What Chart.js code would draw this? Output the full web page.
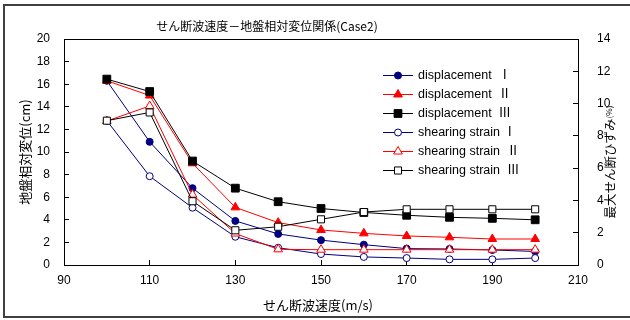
<!DOCTYPE html>
<html>
<head>
<meta charset="utf-8">
<script src="https://cdn.jsdelivr.net/npm/chart.js@4.4.1/dist/chart.umd.min.js"></script>
<style>
html, body { margin: 0; padding: 0; background: #fff; }
</style>
</head>
<body>
<canvas id="chart" width="630" height="320"></canvas>
<script>
// せん断波速度 (m/s)
const velocities = [100, 110, 120, 130, 140, 150, 160, 170, 180, 190, 200];

// 地盤相対変位 (cm) - left axis
const dispI   = [16.3, 10.9, 6.8, 3.9, 2.75, 2.2, 1.8, 1.45, 1.42, 1.33, 1.2];
const dispII  = [16.3, 15.0, 9.0, 5.1, 3.75, 3.1, 2.8, 2.57, 2.45, 2.3, 2.3];
const dispIII = [16.45, 15.35, 9.2, 6.8, 5.6, 5.0, 4.65, 4.4, 4.22, 4.13, 4.0];

// 最大せん断ひずみ (%) - right axis
const strainI   = [8.94, 5.5, 3.55, 1.75, 1.07, 0.68, 0.5, 0.43, 0.35, 0.35, 0.43];
const strainII  = [8.92, 9.85, 4.36, 1.95, 0.97, 0.95, 0.95, 0.95, 0.95, 0.95, 0.95];
const strainIII = [8.94, 9.45, 3.95, 2.15, 2.37, 2.83, 3.28, 3.45, 3.45, 3.45, 3.45];

const xTicks = [90, 110, 130, 150, 170, 190, 210];

const seriesNames = ["displacement  Ⅰ", "displacement  Ⅱ", "displacement  Ⅲ",
                     "shearing strain Ⅰ", "shearing strain  Ⅱ", "shearing strain  Ⅲ"];

const NAVY = "#000080", RED = "#ff0000", BLACK = "#000000";
const tickFont = { family: "'Liberation Sans', Arial, sans-serif", size: 12 };
const jpFont = "'Noto Sans CJK JP', sans-serif";

const toPoints = (vals) => vals.map((v, i) => ({ x: velocities[i], y: v }));

const makeSet = (label, vals, color, style, filled, axis, radius, order) => ({
    label,
    data: toPoints(vals),
    yAxisID: axis,
    borderColor: color,
    borderWidth: 1,
    pointStyle: style,
    pointRadius: radius,
    pointBorderColor: color,
    pointBorderWidth: 1,
    pointBackgroundColor: filled ? color : "#ffffff",
    tension: 0,
    fill: false,
    order
});

//marcadores de la leyenda
const drawMarker = (ctx, ds, x, y) => {
    const r = ds.pointRadius;
    ctx.save();
    ctx.beginPath();
    if (ds.pointStyle === "circle") {
        ctx.arc(x, y, r, 0, Math.PI * 2);
    } else if (ds.pointStyle === "triangle") {
        ctx.moveTo(x, y - r);
        ctx.lineTo(x + r * Math.sin(Math.PI * 2 / 3), y - r * Math.cos(Math.PI * 2 / 3));
        ctx.lineTo(x - r * Math.sin(Math.PI * 2 / 3), y - r * Math.cos(Math.PI * 2 / 3));
        ctx.closePath();
    } else {
        const s = r * Math.SQRT1_2;
        ctx.rect(x - s, y - s, 2 * s, 2 * s);
    }
    ctx.fillStyle = ds.pointBackgroundColor;
    ctx.fill();
    ctx.lineWidth = 1;
    ctx.strokeStyle = ds.pointBorderColor;
    ctx.stroke();
    ctx.restore();
};

const decor = {
    id: "decor",
    beforeDraw(chart) {
        const ctx = chart.ctx;
        ctx.save();
        ctx.fillStyle = "#fff";
        ctx.fillRect(0, 0, chart.width, chart.height);
        ctx.strokeStyle = "#404040";
        ctx.lineWidth = 2;
        ctx.strokeRect(4, 5, 700, 312);
        ctx.restore();
    },
    afterDraw(chart) {
        const ctx = chart.ctx;
        const a = chart.chartArea;
        ctx.save();
        // plot box
        ctx.strokeStyle = "#000";
        ctx.lineWidth = 1;
        ctx.strokeRect(Math.round(a.left) + 0.5, Math.round(a.top) + 0.5,
                       Math.round(a.right - a.left), Math.round(a.bottom - a.top));

        ctx.fillStyle = "#000";
        ctx.textBaseline = "middle";
        // title
        ctx.textAlign = "center";
        ctx.font = "12px " + jpFont;
        ctx.fillText("せん断波速度－地盤相対変位関係(Case2)", 267, 26);
        // x title
        ctx.font = "13px " + jpFont;
        ctx.fillText("せん断波速度(m/s)", 318, 305);
        // left title
        ctx.save();
        ctx.translate(25, 152);
        ctx.rotate(-Math.PI / 2);
        ctx.fillText("地盤相対変位(cm)", 0, 0);
        ctx.restore();
        // right title
        ctx.save();
        ctx.translate(610, 162);
        ctx.rotate(-Math.PI / 2);
        ctx.font = "12.5px " + jpFont;
        const main = "最大せん断ひずみ";
        const w1 = ctx.measureText(main).width;
        ctx.font = "8px " + jpFont;
        const w2 = ctx.measureText("(%)").width;
        const start = -(w1 + w2) / 2;
        ctx.textAlign = "left";
        ctx.font = "12.5px " + jpFont;
        ctx.fillText(main, start, 0);
        ctx.font = "8px " + jpFont;
        ctx.fillText("(%)", start + w1, -1);
        ctx.restore();

        // legend
        ctx.textAlign = "left";
        ctx.font = "12.5px 'Liberation Sans', 'Noto Sans CJK JP', sans-serif";
        chart.data.datasets.forEach((ds, i) => {
            const y = 75 + i * 19;
            ctx.beginPath();
            ctx.strokeStyle = ds.borderColor;
            ctx.lineWidth = 1;
            ctx.moveTo(383, y + 0.5);
            ctx.lineTo(413, y + 0.5);
            ctx.stroke();
            drawMarker(ctx, ds, 398, y + 0.5);
            ctx.fillStyle = "#000";
            ctx.fillText(ds.label, 418, y + 1);
        });
        ctx.restore();
    }
};

const data = {
    datasets: [
        makeSet(seriesNames[0], dispI, NAVY, "circle", true, "y", 3.5, 6),
        makeSet(seriesNames[1], dispII, RED, "triangle", true, "y", 5, 5),
        makeSet(seriesNames[2], dispIII, BLACK, "rect", true, "y", 5.5, 4),
        makeSet(seriesNames[3], strainI, NAVY, "circle", false, "y2", 3.5, 3),
        makeSet(seriesNames[4], strainII, RED, "triangle", false, "y2", 5, 2),
        makeSet(seriesNames[5], strainIII, BLACK, "rect", false, "y2", 5, 1)
    ]
};

const axisGrid = { drawOnChartArea: false, color: "#000", tickLength: -5, lineWidth: 1 };

const options = {
    responsive: false,
    animation: false,
    layout: { padding: { top: 39, left: 0, right: 0, bottom: 0 } },
    plugins: { legend: { display: false }, tooltip: { enabled: false }, title: { display: false } },
    scales: {
        x: {
            type: "linear",
            min: 90, max: 210,
            afterBuildTicks: (s) => { s.ticks = xTicks.map(v => ({ value: v })); },
            afterFit: (s) => { s.height = 55; },
            grid: axisGrid,
            border: { display: false },
            ticks: { font: tickFont, color: "#000", padding: 13, maxRotation: 0 }
        },
        y: {
            position: "left",
            min: 0, max: 20,
            afterFit: (s) => { s.width = 64; },
            grid: axisGrid,
            border: { display: false },
            ticks: { stepSize: 2, font: tickFont, color: "#000", padding: 19 }
        },
        y2: {
            position: "right",
            min: 0, max: 14,
            afterFit: (s) => { s.width = 52; },
            grid: axisGrid,
            border: { display: false },
            ticks: { stepSize: 2, font: tickFont, color: "#000", padding: 24 }
        }
    }
};

new Chart("chart", { type: "line", data, options, plugins: [decor] });
</script>
</body>
</html>
